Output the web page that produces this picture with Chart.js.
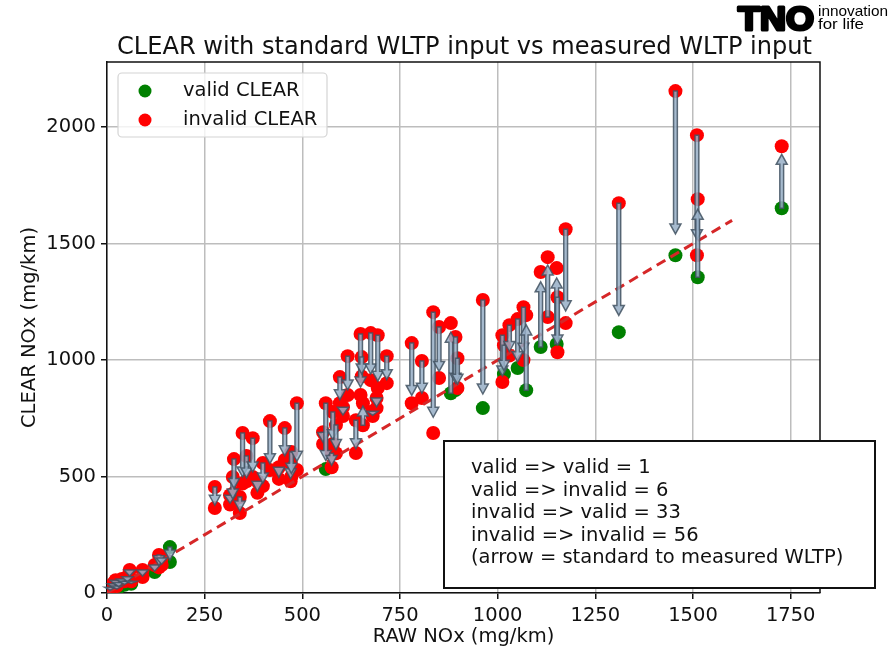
<!DOCTYPE html>
<html>
<head>
<meta charset="utf-8">
<script src="https://cdn.jsdelivr.net/npm/chart.js@4.4.0/dist/chart.umd.min.js"></script>
<style>
  html, body { margin: 0; padding: 0; background: #fff; }
</style>
</head>
<body>
<canvas id="clearChart" width="892" height="653"></canvas>
<script>
// one entry per vehicle: raw NOx, CLEAR with standard WLTP input, CLEAR with measured WLTP input
const rawNox    = [8, 15, 22, 25, 30, 38, 45, 52, 58, 62, 91, 122, 133, 140, 161,
                   276, 315, 322, 325, 340, 347, 357, 373, 385, 399, 417, 440, 455, 470, 472, 486,
                   553, 560, 575, 578, 586, 596, 604, 616, 637, 649, 652, 655, 675, 680, 690, 693, 716,
                   780, 806, 835, 850, 880, 892, 897, 962, 1012, 1016, 1030, 1051, 1066, 1073,
                   1110, 1128, 1151, 1153, 1174, 1310, 1455, 1510, 1512, 1727];
const clearStd  = [25, 40, 55, 30, 45, 60, 50, 70, 99, 50, 99, 120, 163, 150, 197,
                   455, 420, 498, 575, 412, 687, 588, 665, 480, 558, 738, 540, 708, 560, 605, 815,
                   690, 815, 600, 777, 721, 927, 798, 1017, 742, 1112, 1013, 720, 1116, 780, 837, 1107, 1017,
                   1073, 996, 1206, 1142, 858, 1099, 1008, 1258, 1107, 1064, 1150, 1176, 1227, 871,
                   1056, 1185, 1069, 1270, 1562, 1674, 2155, 1966, 1356, 1652];
const clearMeas = [10, 20, 30, 15, 25, 40, 35, 45, 69, 40, 69, 90, 110, 120, 133,
                   365, 380, 390, 430, 343, 470, 480, 498, 430, 459, 528, 490, 571, 480, 500, 528,
                   640, 532, 540, 640, 600, 815, 760, 850, 601, 850, 930, 815, 914, 760, 794, 880, 901,
                   815, 837, 687, 923, 1159, 871, 880, 794, 906, 940, 1020, 966, 1000, 1193,
                   1378, 1442, 1395, 1034, 1159, 1120, 1450, 1450, 1691, 1918];
// 1 = valid CLEAR result, 0 = invalid
const stdValid  = [0, 0, 0, 0, 0, 0, 0, 0, 0, 0, 0, 0, 0, 0, 1,
                   0, 0, 0, 0, 0, 0, 0, 0, 0, 0, 0, 0, 0, 0, 0, 0,
                   0, 0, 0, 0, 0, 0, 0, 0, 0, 0, 0, 0, 0, 0, 0, 0, 0,
                   0, 0, 0, 0, 1, 0, 0, 0, 0, 0, 0, 0, 0, 1,
                   1, 0, 1, 0, 0, 0, 0, 0, 1, 1];
const measValid = [1, 1, 1, 1, 1, 1, 1, 1, 0, 1, 0, 1, 0, 0, 1,
                   0, 0, 0, 0, 0, 0, 0, 0, 0, 0, 0, 0, 0, 0, 0, 0,
                   0, 1, 0, 0, 0, 0, 0, 0, 0, 0, 0, 0, 0, 0, 0, 0, 0,
                   0, 0, 0, 0, 0, 1, 0, 1, 0, 1, 0, 1, 0, 0,
                   0, 0, 0, 0, 0, 1, 1, 0, 0, 0];

const refLine = [0, 1600];
const xTicks = [0, 250, 500, 750, 1000, 1250, 1500, 1750];
const yTicks = [0, 500, 1000, 1500, 2000];
const boxLines = [
    'valid => valid = 1',
    'valid => invalid = 6',
    'invalid => valid = 33',
    'invalid => invalid = 56',
    '(arrow = standard to measured WLTP)'
];

// dots split by validity, from both ends of every arrow
const validPts = [];
const invalidPts = [];
rawNox.forEach((x, i) => {
    (stdValid[i] ? validPts : invalidPts).push({ x: x, y: clearStd[i] });
    (measValid[i] ? validPts : invalidPts).push({ x: x, y: clearMeas[i] });
});

const FONT = '"DejaVu Sans", sans-serif';

function fitText(ctx, text, x, y, width, align, stroke) {
    const w = ctx.measureText(text).width;
    ctx.save();
    ctx.translate(x, y);
    ctx.scale(width / w, 1);
    ctx.textAlign = align || 'left';
    if (stroke) {
        ctx.lineWidth = stroke;
        ctx.lineJoin = 'round';
        ctx.strokeText(text, 0, 0);
    }
    ctx.fillText(text, 0, 0);
    ctx.restore();
}

function drawArrow(ctx, x, y0, y1) {
    const dir = y1 > y0 ? 1 : -1;
    const headL = 10, headW = 5.5, shaftW = 1.9;
    let yb = y1 - dir * headL;
    if ((yb - y0) * dir < 0) yb = y0;
    ctx.beginPath();
    ctx.moveTo(x - shaftW, y0);
    ctx.lineTo(x + shaftW, y0);
    ctx.lineTo(x + shaftW, yb);
    ctx.lineTo(x + headW, yb);
    ctx.lineTo(x, y1);
    ctx.lineTo(x - headW, yb);
    ctx.lineTo(x - shaftW, yb);
    ctx.closePath();
    ctx.fillStyle = 'rgba(150,174,198,0.85)';
    ctx.fill();
    ctx.strokeStyle = 'rgba(66,82,98,0.85)';
    ctx.lineWidth = 1.5;
    ctx.stroke();
}

const decor = {
    id: 'decor',
    afterDatasetsDraw(chart) {
        const ctx = chart.ctx;
        const xs = chart.scales.x, ys = chart.scales.y;
        // arrows, standard -> measured
        rawNox.forEach((x, i) => {
            const px = xs.getPixelForValue(x);
            const y0 = ys.getPixelForValue(clearStd[i]);
            const yEnd = clearStd[i] + 0.87 * (clearMeas[i] - clearStd[i]);
            drawArrow(ctx, px, y0, ys.getPixelForValue(yEnd));
        });
    },
    afterDraw(chart) {
        const ctx = chart.ctx;
        const a = chart.chartArea;
        ctx.save();
        // top / right frame
        ctx.strokeStyle = '#111';
        ctx.lineWidth = 1.5;
        ctx.beginPath();
        ctx.moveTo(a.left, a.top);
        ctx.lineTo(a.right, a.top);
        ctx.lineTo(a.right, a.bottom);
        ctx.stroke();

        // title
        ctx.fillStyle = '#111';
        ctx.textBaseline = 'alphabetic';
        ctx.font = '25px ' + FONT;
        fitText(ctx, 'CLEAR with standard WLTP input vs measured WLTP input', 464.5, 54, 695, 'center');

        // logo
        ctx.fillStyle = '#000';
        ctx.strokeStyle = '#000';
        ctx.font = 'bold 33px "Liberation Sans", sans-serif';
        fitText(ctx, 'TNO', 738, 30, 76, 'left', 3);
        ctx.font = '15px "Liberation Sans", sans-serif';
        fitText(ctx, 'innovation', 818, 16, 70);
        fitText(ctx, 'for life', 818, 29, 46);

        // legend
        ctx.beginPath();
        ctx.roundRect(118, 73, 209, 64, 4);
        ctx.fillStyle = 'rgba(255,255,255,0.8)';
        ctx.fill();
        ctx.strokeStyle = '#d4d4d4';
        ctx.lineWidth = 1.2;
        ctx.stroke();
        [['#008000', 'valid CLEAR', 91], ['#ff0000', 'invalid CLEAR', 120]].forEach(([c, t, y]) => {
            ctx.beginPath();
            ctx.arc(145, y, 6.5, 0, Math.PI * 2);
            ctx.fillStyle = c;
            ctx.fill();
            ctx.fillStyle = '#111';
            ctx.font = '19.5px ' + FONT;
            ctx.textBaseline = 'middle';
            ctx.textAlign = 'left';
            ctx.fillText(t, 183, y);
        });

        // counts box
        ctx.fillStyle = '#fff';
        ctx.fillRect(444, 441, 431, 147);
        ctx.strokeStyle = '#111';
        ctx.lineWidth = 2;
        ctx.strokeRect(444, 441, 431, 147);
        ctx.fillStyle = '#111';
        ctx.font = '19.5px ' + FONT;
        ctx.textBaseline = 'middle';
        boxLines.forEach((t, i) => ctx.fillText(t, 471, 468 + i * 22.5));
        ctx.restore();
    }
};

new Chart(document.getElementById('clearChart'), {
    type: 'scatter',
    data: {
        datasets: [{
            label: '1:1',
            data: refLine.map(v => ({ x: v, y: v })),
            showLine: true,
            borderColor: '#d62728',
            borderWidth: 3,
            borderDash: [10, 6],
            pointRadius: 0,
            order: 0
        }, {
            label: 'valid CLEAR',
            data: validPts,
            backgroundColor: '#008000',
            borderColor: '#008000',
            pointRadius: 7,
            borderWidth: 0,
            order: 2
        }, {
            label: 'invalid CLEAR',
            data: invalidPts,
            backgroundColor: '#ff0000',
            borderColor: '#ff0000',
            pointRadius: 7,
            borderWidth: 0,
            order: 1
        }]
    },
    options: {
        responsive: false,
        animation: false,
        layout: { padding: { top: 62, right: 72, left: 0, bottom: 0 } },
        plugins: {
            legend: { display: false },
            tooltip: { enabled: false }
        },
        scales: {
            x: {
                type: 'linear',
                min: 0,
                max: 1825,
                afterBuildTicks: s => { s.ticks = xTicks.map(v => ({ value: v })); },
                afterFit: s => { s.height = 60; },
                ticks: { color: '#111', font: { family: FONT, size: 19.5 }, padding: 5, callback: v => String(v) },
                grid: { color: '#bdbdbd', lineWidth: 1.5, tickColor: '#111', tickLength: 6 },
                border: { color: '#111', width: 1.5 },
                title: {
                    display: true, text: 'RAW NOx (mg/km)', color: '#111',
                    font: { family: FONT, size: 19.5 }, padding: { top: 0, bottom: 4 }
                }
            },
            y: {
                type: 'linear',
                min: 0,
                max: 2280,
                afterBuildTicks: s => { s.ticks = yTicks.map(v => ({ value: v })); },
                afterFit: s => { s.width = 107; },
                ticks: { color: '#111', font: { family: FONT, size: 19.5 }, padding: 5, callback: v => String(v) },
                grid: { color: '#bdbdbd', lineWidth: 1.5, tickColor: '#111', tickLength: 6 },
                border: { color: '#111', width: 1.5 },
                title: {
                    display: true, text: 'CLEAR NOx (mg/km)', color: '#111',
                    font: { family: FONT, size: 19.5 }, padding: { top: 18, bottom: 0 }
                }
            }
        }
    },
    plugins: [decor]
});
</script>
</body>
</html>
